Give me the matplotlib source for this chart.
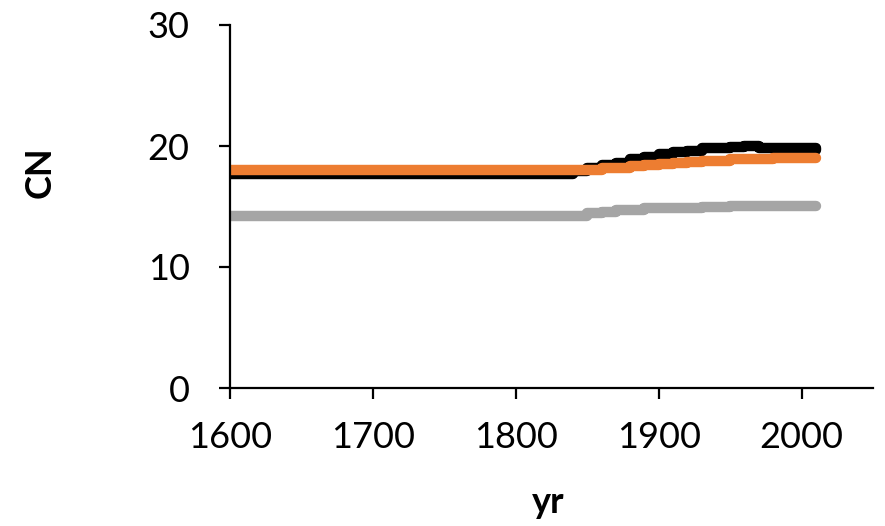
import matplotlib
matplotlib.use("Agg")
import matplotlib.pyplot as plt

# years and CN values
years = [1600, 1830, 1840, 1850, 1860, 1870, 1880, 1890, 1900, 1910,
         1920, 1930, 1940, 1950, 1960, 1970, 1980, 1990, 2000, 2010]
cn_black = [17.7, 17.7, 17.9, 18.2, 18.4, 18.6, 18.9, 19.1, 19.3, 19.5,
            19.6, 19.8, 19.8, 19.9, 20.0, 19.8, 19.8, 19.8, 19.8, 19.7]
cn_orange = [18.0, 18.0, 18.0, 18.0, 18.15, 18.2, 18.35, 18.4, 18.55, 18.6,
             18.65, 18.8, 18.8, 18.9, 18.9, 18.9, 19.0, 19.0, 19.0, 19.0]
cn_gray = [14.2, 14.2, 14.2, 14.5, 14.55, 14.7, 14.7, 14.85, 14.85, 14.9,
           14.9, 14.95, 15.0, 15.05, 15.05, 15.05, 15.05, 15.05, 15.05, 15.05]

plt.rcParams['font.family'] = ['Lato', 'DejaVu Sans']

fig = plt.figure(figsize=(8.85, 5.26), dpi=100)
ax = fig.add_axes([230 / 885, 138 / 526, 643 / 885, 363 / 526])

style = dict(lw=7.5, solid_capstyle="round", solid_joinstyle="round", drawstyle="steps-post")
ax.plot(years, cn_black, color="black", **style)
ax.plot(years, cn_orange, color="#ED7D31", **style)
ax.plot(years, cn_gray, color="#A5A5A5", **style)

ax.set_xlim(1600, 2050)
ax.set_ylim(0, 30)
ax.set_xticks([1600, 1700, 1800, 1900, 2000])
ax.set_yticks([0, 10, 20, 30])

for side in ["top", "right"]:
    ax.spines[side].set_visible(False)
for side in ["left", "bottom"]:
    ax.spines[side].set_linewidth(1.6)

ax.tick_params(axis="both", direction="out", length=8, width=1.6, labelsize=26)
ax.tick_params(axis="y", pad=21)
ax.tick_params(axis="x", pad=16)

ax.set_ylabel("CN", fontsize=26, fontweight="bold")
ax.set_xlabel("yr", fontsize=26, fontweight="bold")
ax.yaxis.set_label_coords(-0.27, 0.595)
ax.xaxis.set_label_coords(0.495, -0.27)

fig.savefig("out.png", dpi=100)
